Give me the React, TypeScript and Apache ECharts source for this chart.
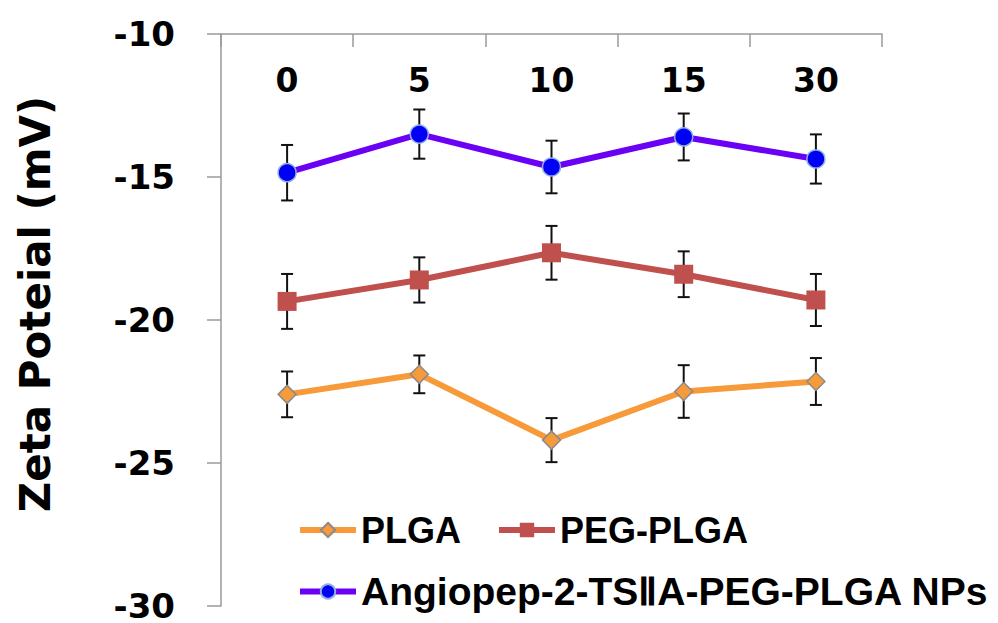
import React, { useEffect, useRef } from "react";
import * as echarts from "echarts";

const categories = ["0", "5", "10", "15", "30"];
const plga = [-22.6, -21.9, -24.2, -22.5, -22.15];
const plgaErr = [0.8, 0.66, 0.77, 0.92, 0.82];
const pegPlga = [-19.35, -18.6, -17.65, -18.4, -19.3];
const pegPlgaErr = [0.96, 0.79, 0.94, 0.8, 0.91];
const angio = [-14.85, -13.5, -14.65, -13.6, -14.37];
const angioErr = [0.97, 0.86, 0.92, 0.82, 0.86];
const seriesNames = ["PLGA", "PEG-PLGA", "Angiopep-2-TSⅡA-PEG-PLGA NPs"];
const yTicks = { min: -30, max: -10, interval: 5 };

const BOLD_FONT = "DejaVu Sans";
const LEGEND_FONT = "'Liberation Sans', Arial, sans-serif";

function errData(vals: number[], errs: number[]) {
  return vals.map((v, i) => [i, v - errs[i], v + errs[i]]);
}

function errSeries(vals: number[], errs: number[]) {
  return {
    type: "custom",
    z: 1,
    silent: true,
    data: errData(vals, errs),
    renderItem: (params: any, api: any) => {
      const x = api.value(0);
      const lo = api.coord([x, api.value(1)]);
      const hi = api.coord([x, api.value(2)]);
      const cap = 6;
      const style = { stroke: "#111", lineWidth: 2 };
      return {
        type: "group",
        children: [
          { type: "line", shape: { x1: lo[0], y1: lo[1], x2: hi[0], y2: hi[1] }, style },
          { type: "line", shape: { x1: lo[0] - cap, y1: lo[1], x2: lo[0] + cap, y2: lo[1] }, style },
          { type: "line", shape: { x1: hi[0] - cap, y1: hi[1], x2: hi[0] + cap, y2: hi[1] }, style },
        ],
      };
    },
  };
}

export default function App() {
  const ref = useRef<HTMLDivElement>(null);
  useEffect(() => {
    if (!ref.current) return;
    const chart = echarts.init(ref.current, null, { renderer: "svg" });
    chart.setOption({
      animation: false,
      backgroundColor: "#ffffff",
      grid: { left: 221, top: 34, right: 116, bottom: 12, containLabel: false },
      legend: [
        {
          data: [seriesNames[0], seriesNames[1]],
          left: 292,
          top: 507,
          itemWidth: 56,
          itemHeight: 18,
          itemGap: 35,
          lineStyle: { width: 6 },
          textStyle: { fontFamily: LEGEND_FONT, fontWeight: "bold", fontSize: 36, color: "#000" },
        },
        {
          data: [seriesNames[2]],
          left: 292,
          top: 567,
          itemWidth: 56,
          itemHeight: 18,
          lineStyle: { width: 6 },
          textStyle: { fontFamily: LEGEND_FONT, fontWeight: "bold", fontSize: 39, color: "#000" },
        },
      ],
      xAxis: {
        type: "category",
        position: "top",
        data: categories,
        boundaryGap: true,
        axisLine: { show: true, lineStyle: { color: "#9a9a9a", width: 1.5 } },
        axisTick: { show: true, inside: true, length: 13, lineStyle: { color: "#9a9a9a", width: 1.5 } },
        axisLabel: {
          inside: true,
          margin: 30,
          fontFamily: BOLD_FONT,
          fontWeight: "bold",
          fontSize: 33,
          color: "#000",
        },
        splitLine: { show: false },
      },
      yAxis: {
        type: "value",
        min: yTicks.min,
        max: yTicks.max,
        interval: yTicks.interval,
        name: "Zeta Poteial (mV)",
        nameLocation: "middle",
        nameRotate: 90,
        nameGap: 165,
        nameTextStyle: {
          fontFamily: BOLD_FONT,
          fontWeight: "bold",
          fontSize: 42,
          color: "#000",
          padding: [0, 0, 0, 32],
        },
        axisLine: { show: true, lineStyle: { color: "#9a9a9a", width: 1.5 } },
        axisTick: { show: true, inside: false, length: 14, lineStyle: { color: "#9a9a9a", width: 1.5 } },
        axisLabel: {
          margin: 46,
          fontFamily: BOLD_FONT,
          fontWeight: "bold",
          fontSize: 34,
          color: "#000",
        },
        splitLine: { show: false },
      },
      series: [
        errSeries(plga, plgaErr),
        errSeries(pegPlga, pegPlgaErr),
        errSeries(angio, angioErr),
        {
          name: seriesNames[0],
          type: "line",
          z: 3,
          data: plga,
          symbol: "diamond",
          symbolSize: 18,
          lineStyle: { color: "#f79a3a", width: 6 },
          itemStyle: { color: "#f79a3a", borderColor: "#8a8a8a", borderWidth: 1.5 },
        },
        {
          name: seriesNames[1],
          type: "line",
          z: 3,
          data: pegPlga,
          symbol: "rect",
          symbolSize: 19,
          lineStyle: { color: "#c0504d", width: 6 },
          itemStyle: { color: "#c0504d", borderWidth: 0 },
        },
        {
          name: seriesNames[2],
          type: "line",
          z: 3,
          data: angio,
          symbol: "circle",
          symbolSize: 18,
          lineStyle: { color: "#6a00f4", width: 6 },
          itemStyle: { color: "#0000f6", borderColor: "#8fb0e0", borderWidth: 1.5 },
        },
      ],
    });
    return () => chart.dispose();
  }, []);
  return (
    <div
      ref={ref}
      style={{ position: "fixed", left: 0, top: 0, width: 998, height: 623, background: "#fff" }}
    />
  );
}
